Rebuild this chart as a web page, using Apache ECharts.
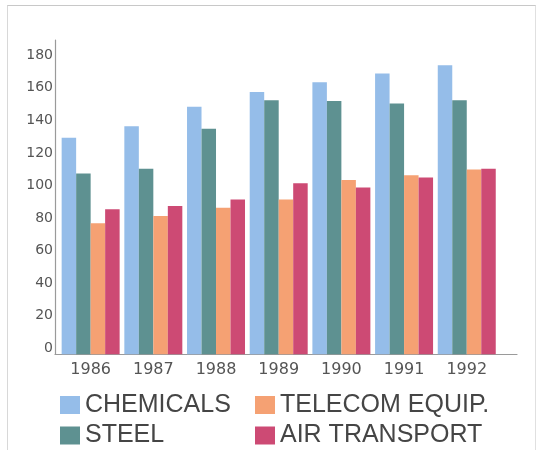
<!DOCTYPE html>
<html>
<head>
<meta charset="utf-8">
<script src="https://cdn.jsdelivr.net/npm/echarts@6/dist/echarts.min.js"></script>
<style>
  html, body { margin: 0; padding: 0; background: #ffffff; }
  #frame {
    position: absolute; left: 7px; top: 5px; width: 527px; height: 460px;
    border-top: 1px solid #c8c8c8; border-left: 1px solid #d8d8d8; border-right: 1px solid #e0e0e0;
  }
  #chart { position: absolute; left: 0; top: 0; width: 536px; height: 450px; }
</style>
</head>
<body>
<div id="frame"></div>
<div id="chart"></div>
<script>
// Industry indices by year
const years = ['1986', '1987', '1988', '1989', '1990', '1991', '1992'];
const chemicals = [133, 140, 152, 161, 167, 172.5, 177.5];
const steel = [111, 114, 138.5, 156, 155.5, 154, 156];
const telecomEquip = [80.5, 85, 90, 95, 107, 110, 113.5];
const airTransport = [89, 91, 95, 105, 102.5, 108.5, 114];
const yTicks = [0, 20, 40, 60, 80, 100, 120, 140, 160, 180];

const seriesNames = ['CHEMICALS', 'STEEL', 'TELECOM EQUIP.', 'AIR TRANSPORT'];
const seriesValues = [chemicals, steel, telecomEquip, airTransport];
const seriesColors = ['#95bde9', '#5e9191', '#f5a173', '#cd4a74'];

const chart = echarts.init(document.getElementById('chart'), null, { renderer: 'canvas' });

const legendText = { fontFamily: 'Liberation Sans, Arial, sans-serif', fontSize: 25, color: '#454545', lineHeight: 24 };

chart.setOption({
  animation: false,
  backgroundColor: 'transparent',
  grid: [
    { left: 59.3, right: 37.9, top: 40, bottom: 95.7 },
    { left: 55, right: 19, top: 40, bottom: 95.7 }
  ],
  xAxis: [
    {
      type: 'category', gridIndex: 0, data: years,
      axisLine: { show: false }, axisTick: { show: false },
      axisLabel: { margin: 8, color: '#555', fontFamily: 'DejaVu Sans', fontSize: 16 }
    },
    {
      type: 'value', gridIndex: 1, min: 0, max: 1,
      axisLine: { show: true, onZero: false, lineStyle: { color: '#9a9a9a', width: 1.2 } },
      axisTick: { show: false }, axisLabel: { show: false }, splitLine: { show: false }
    }
  ],
  yAxis: [
    {
      type: 'value', gridIndex: 0, min: 0, max: 193, interval: 20, offset: 4.3,
      axisLine: { show: true, lineStyle: { color: '#9a9a9a', width: 1.2 } },
      axisTick: { show: false }, splitLine: { show: false },
      axisLabel: {
        showMaxLabel: false, margin: 2, color: '#555', fontFamily: 'DejaVu Sans', fontSize: 14,
        verticalAlign: 'bottom', lineHeight: 12,
        formatter: v => (yTicks.includes(v) ? String(v) : '')
      }
    },
    { type: 'value', gridIndex: 1, show: false, min: 0, max: 1 }
  ],
  legend: [
    {
      data: ['CHEMICALS', 'STEEL'], orient: 'vertical', left: 60, top: 392.5, padding: 0,
      icon: 'rect', itemWidth: 20, itemHeight: 18, itemGap: 5.5, textStyle: legendText
    },
    {
      data: ['TELECOM EQUIP.', 'AIR TRANSPORT'], orient: 'vertical', left: 255, top: 392.5, padding: 0,
      icon: 'rect', itemWidth: 20, itemHeight: 18, itemGap: 5.5, textStyle: legendText
    }
  ],
  series: seriesNames.map((name, i) => ({
    name: name, type: 'bar', xAxisIndex: 0, yAxisIndex: 0,
    data: seriesValues[i],
    barGap: '0%', barCategoryGap: '7.5%',
    itemStyle: { color: seriesColors[i] }
  }))
});
</script>
</body>
</html>
